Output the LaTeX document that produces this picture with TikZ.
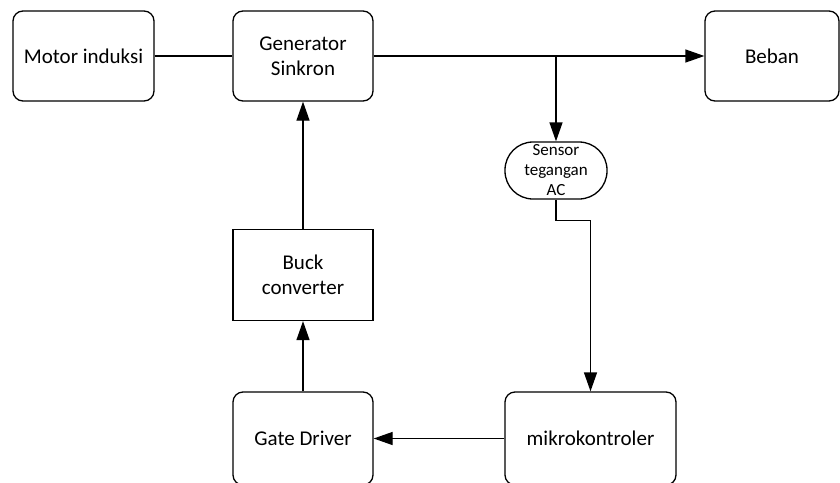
\documentclass[tikz,border=0pt]{standalone}
\usepackage{fontspec}
\setmainfont{Carlito}
\usetikzlibrary{arrows.meta}
\tikzset{
  blk/.style={draw, line width=1.3pt, rounded corners=10pt, align=center,
    font=\fontsize{21}{25}\selectfont, inner sep=0pt},
  sqblk/.style={draw, line width=1.3pt, align=center,
    font=\fontsize{21}{25}\selectfont, inner sep=0pt},
  pill/.style={draw, line width=1.3pt, rounded corners=28pt, align=center,
    font=\fontsize{17}{20}\selectfont, inner sep=0pt},
  wire/.style={line width=1.3pt},
  flow/.style={wire, -{Triangle[length=19pt,width=13pt]}}
}
\begin{document}
\begin{tikzpicture}[x=1pt, y=-1pt]
  \useasboundingbox (0,0) rectangle (840,482);
  % top row
  \node[blk, minimum width=141pt, minimum height=90pt] (motor) at (83.5,56) {Motor induksi};
  \node[blk, minimum width=140pt, minimum height=90pt] (gen) at (303,56) {Generator\\Sinkron};
  \node[blk, minimum width=134pt, minimum height=90pt] (beban) at (772,56) {Beban};
  % voltage sensor
  \node[pill, minimum width=102pt, minimum height=57pt] (sens) at (556,170.5) {Sensor\\tegangan\\AC};
  % converter chain
  \node[sqblk, minimum width=140pt, minimum height=91pt] (buck) at (303,275) {Buck\\converter};
  \node[blk, minimum width=140pt, minimum height=93pt] (gate) at (303,438.5) {Gate Driver};
  \node[blk, minimum width=171pt, minimum height=93pt] (mcu) at (590.5,438.5) {mikrokontroler};
  % branch point on the output line
  \coordinate (tap) at (sens.north |- gen.east);
  % connectors
  \draw[wire] (motor.east) -- (gen.west);
  \draw[flow] (gen.east) -- (beban.west);
  \draw[flow] (tap) -- (sens.north);
  \draw[flow] (sens.south) -- ++(0,21) -| (mcu.north);
  \draw[flow] (mcu.west) -- (gate.east);
  \draw[flow] (gate.north) -- (buck.south);
  \draw[flow] (buck.north) -- (gen.south);
\end{tikzpicture}
\end{document}
